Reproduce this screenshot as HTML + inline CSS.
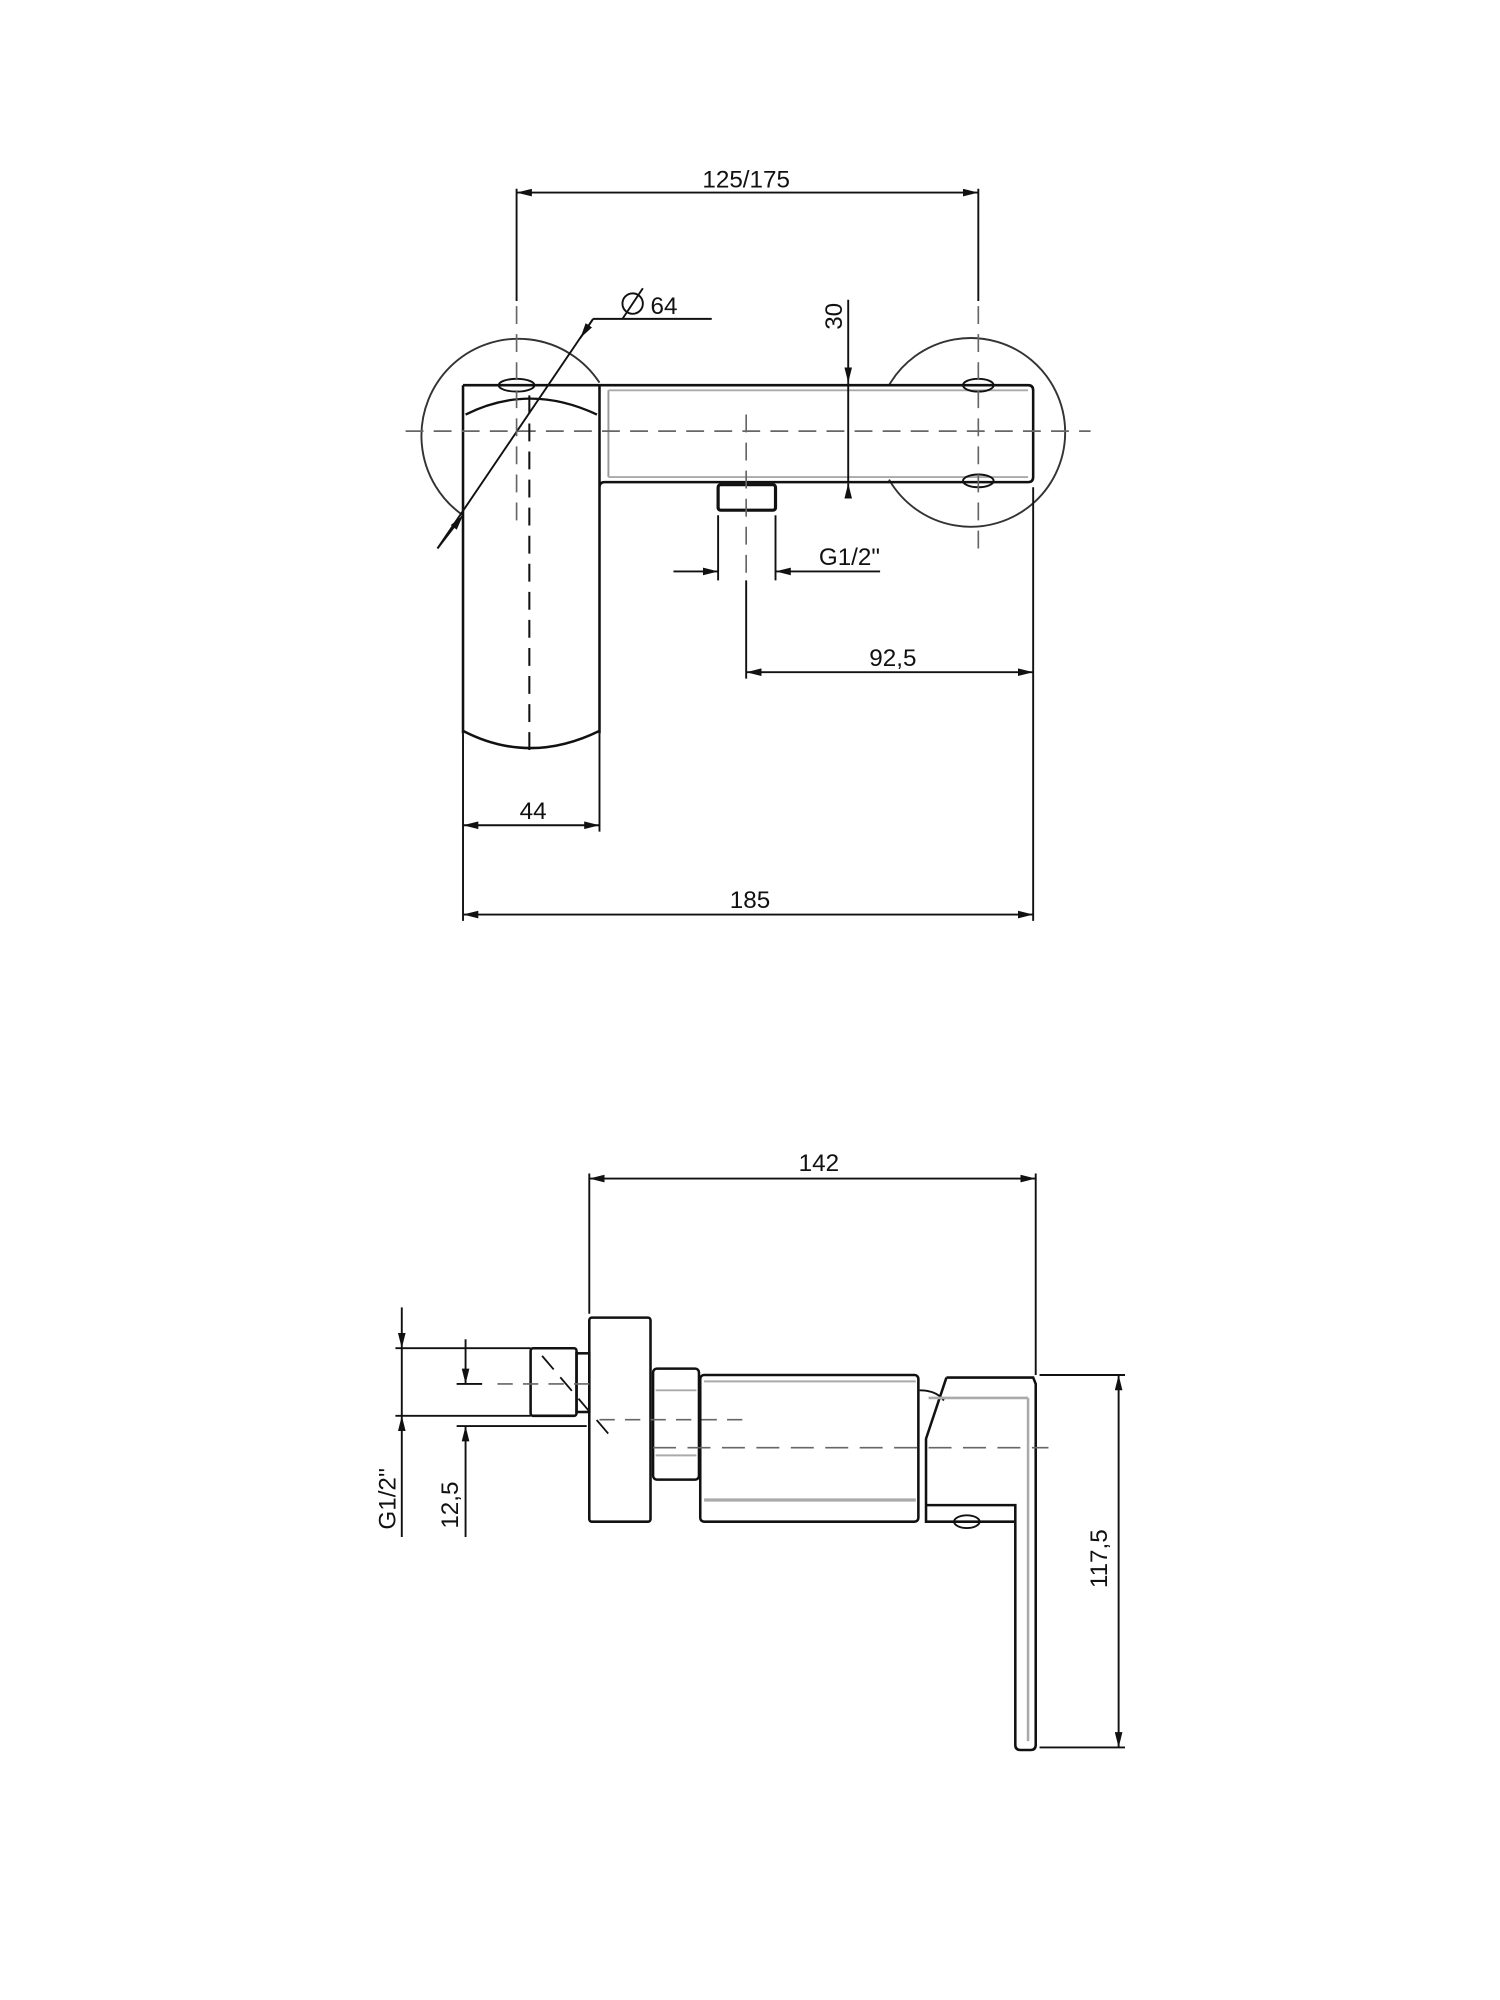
<!DOCTYPE html>
<html><head><meta charset="utf-8"><style>
html,body{margin:0;padding:0;background:#fff}
svg{display:block}
text{font-family:"Liberation Sans",sans-serif;font-size:19px;fill:#111}
</style></head><body>
<svg width="1500" height="2000" viewBox="0 0 1176 1568" preserveAspectRatio="none" xmlns="http://www.w3.org/2000/svg">
<defs>
<marker id="a" viewBox="0 0 12 6" refX="12" refY="3" markerWidth="12" markerHeight="6" orient="auto-start-reverse" markerUnits="userSpaceOnUse"><path d="M0,0 L12,3 L0,6 z" fill="#111"/></marker>
</defs>
<g fill="none" stroke="#111" stroke-width="1.5">
<line x1="405" y1="148" x2="405" y2="236"/><line x1="767" y1="148" x2="767" y2="236"/>
<line x1="405" y1="151" x2="767" y2="151" marker-start="url(#a)" marker-end="url(#a)"/>
<path d="M363,404 A76,76 0 1,1 470,300" stroke="#333"/>
<path d="M697,302 A74,74 0 1,1 697,376" stroke="#333"/>
<path d="M363,302 L363,575 M470,302 L470,575 M363,302 L806,302 Q810,302 810,306 L810,374 Q810,378 806,378 L474,378 Q470,378 470,382" stroke-width="2"/>
<line x1="477" y1="306" x2="477" y2="374" stroke="#999"/>
<line x1="477" y1="306" x2="806" y2="306" stroke="#aaa"/>
<line x1="477" y1="374" x2="806" y2="374" stroke="#aaa"/>
<path d="M365,325 Q415,300 468,325" stroke-width="1.8"/>
<path d="M363,573 Q415,600 470,573" stroke-width="2"/>
<ellipse cx="405" cy="302" rx="14" ry="5"/>
<ellipse cx="767" cy="302" rx="12" ry="5"/>
<ellipse cx="767" cy="377" rx="12" ry="5"/>
<rect x="563" y="380" width="45" height="20" rx="2" stroke-width="2.5"/>
<line x1="665" y1="235" x2="665" y2="300" marker-end="url(#a)"/>
<line x1="665" y1="383" x2="665" y2="379" marker-end="url(#a)"/>
<line x1="665" y1="300" x2="665" y2="378"/>
<line x1="563" y1="404" x2="563" y2="455"/><line x1="608" y1="404" x2="608" y2="455"/>
<line x1="528" y1="448" x2="563" y2="448" marker-end="url(#a)"/>
<line x1="690" y1="448" x2="608" y2="448" marker-end="url(#a)"/>
<line x1="343" y1="430" x2="465" y2="250"/>
<line x1="343" y1="430" x2="363" y2="404" marker-end="url(#a)"/>
<line x1="465" y1="250" x2="455" y2="265" marker-end="url(#a)"/>
<line x1="465" y1="250" x2="558" y2="250"/>
<circle cx="496" cy="238" r="8"/><line x1="488" y1="250" x2="504" y2="226"/>
<line x1="585" y1="455" x2="585" y2="532"/>
<line x1="810" y1="382" x2="810" y2="722"/>
<line x1="585" y1="527" x2="810" y2="527" marker-start="url(#a)" marker-end="url(#a)"/>
<line x1="363" y1="575" x2="363" y2="722"/><line x1="470" y1="575" x2="470" y2="652"/>
<line x1="363" y1="647" x2="470" y2="647" marker-start="url(#a)" marker-end="url(#a)"/>
<line x1="363" y1="717" x2="810" y2="717" marker-start="url(#a)" marker-end="url(#a)"/>
</g>
<g fill="none" stroke="#666" stroke-width="1.3" stroke-dasharray="14,8">
<line x1="318" y1="338" x2="855" y2="338"/>
<line x1="405" y1="240" x2="405" y2="412"/>
<line x1="767" y1="240" x2="767" y2="432"/>
<line x1="585" y1="325" x2="585" y2="450"/>
</g>
<line x1="415" y1="310" x2="415" y2="592" stroke="#111" stroke-width="1.6" stroke-dasharray="14,8"/>
<g fill="none" stroke="#111" stroke-width="1.5">
<line x1="462" y1="920" x2="462" y2="1030"/><line x1="812" y1="920" x2="812" y2="1078"/>
<line x1="462" y1="924" x2="812" y2="924" marker-start="url(#a)" marker-end="url(#a)"/>
<rect x="462" y="1033" width="48" height="160" rx="2" stroke-width="2"/>
<rect x="416" y="1057" width="36" height="53" rx="2" stroke-width="2"/>
<rect x="452" y="1061" width="10" height="46" stroke-width="2"/>
<rect x="512" y="1073" width="36" height="87" rx="3" stroke-width="2"/>
<line x1="514" y1="1090" x2="546" y2="1090" stroke="#aaa"/><line x1="514" y1="1141" x2="546" y2="1141" stroke="#aaa"/>
<rect x="549" y="1078" width="171" height="115" rx="3" stroke-width="2"/>
<line x1="552" y1="1083" x2="718" y2="1083" stroke="#aaa"/>
<line x1="552" y1="1176" x2="718" y2="1176" stroke="#aaa" stroke-width="2.5"/>
<path d="M742,1080 L810,1080 L812,1085 L812,1368 Q812,1372 808,1372 L800,1372 Q796,1372 796,1368 L796,1180 L726,1180" stroke-width="2"/>
<path d="M742,1080 L726,1128 L726,1193 L796,1193" stroke-width="2"/>
<path d="M721,1090 Q734,1090 740,1098"/>
<line x1="728" y1="1096" x2="806" y2="1096" stroke="#aaa" stroke-width="2"/>
<line x1="806" y1="1096" x2="806" y2="1365" stroke="#aaa" stroke-width="2"/>
<ellipse cx="758" cy="1193" rx="10" ry="5"/>
<line x1="310" y1="1057" x2="416" y2="1057"/><line x1="310" y1="1110" x2="416" y2="1110"/>
<line x1="315" y1="1025" x2="315" y2="1057" marker-end="url(#a)"/>
<line x1="315" y1="1205" x2="315" y2="1110" marker-end="url(#a)"/>
<line x1="315" y1="1057" x2="315" y2="1110"/>
<line x1="358" y1="1085" x2="378" y2="1085"/><line x1="358" y1="1118" x2="460" y2="1118"/>
<line x1="365" y1="1050" x2="365" y2="1085" marker-end="url(#a)"/>
<line x1="365" y1="1205" x2="365" y2="1118" marker-end="url(#a)"/>
<line x1="815" y1="1078" x2="882" y2="1078"/><line x1="815" y1="1370" x2="882" y2="1370"/>
<line x1="877" y1="1078" x2="877" y2="1370" marker-start="url(#a)" marker-end="url(#a)"/>
</g>
<g fill="none" stroke="#666" stroke-width="1.3" stroke-dasharray="12,8">
<line x1="390" y1="1085" x2="462" y2="1085"/>
<line x1="470" y1="1113" x2="583" y2="1113"/>
<line x1="512" y1="1135" x2="822" y2="1135" stroke-dasharray="18,9"/>
</g>
<line x1="425" y1="1063" x2="482" y2="1130" stroke="#111" stroke-width="1.4" stroke-dasharray="14,8"/>
<text x="585" y="147" text-anchor="middle">125/175</text>
<text x="510" y="246">64</text>
<text x="660" y="248" transform="rotate(-90 660 248)" text-anchor="middle">30</text>
<text x="642" y="443">G1/2"</text>
<text x="700" y="522" text-anchor="middle">92,5</text>
<text x="418" y="642" text-anchor="middle">44</text>
<text x="588" y="712" text-anchor="middle">185</text>
<text x="642" y="918" text-anchor="middle">142</text>
<text x="310" y="1175" transform="rotate(-90 310 1175)" text-anchor="middle">G1/2''</text>
<text x="359" y="1180" transform="rotate(-90 359 1180)" text-anchor="middle">12,5</text>
<text x="868" y="1222" transform="rotate(-90 868 1222)" text-anchor="middle">117,5</text>
</svg>
</body></html>
